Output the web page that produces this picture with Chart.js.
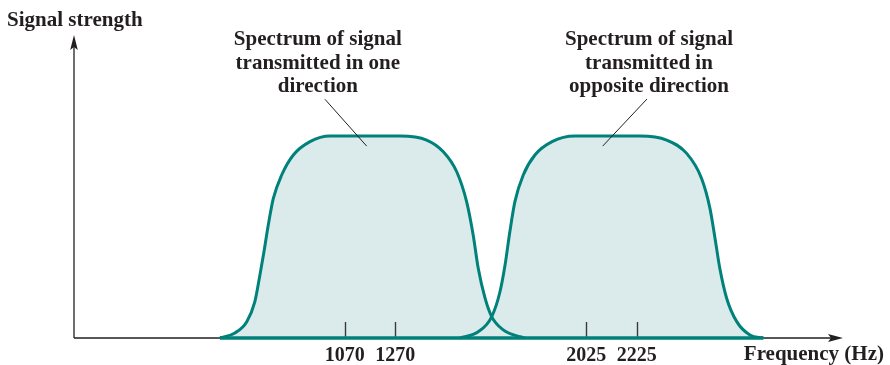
<!DOCTYPE html>
<html>
<head>
<meta charset="utf-8">
<script src="https://cdn.jsdelivr.net/npm/chart.js@4.4.1/dist/chart.umd.min.js"></script>
<style>
  html, body { margin: 0; padding: 0; background: #fff; }
  canvas { display: block; }
</style>
</head>
<body>
<canvas id="spectrumChart" width="890" height="365"></canvas>
<script>
// Full-duplex band spectrum

const freqTicks = [1070, 1270, 2025, 2225];

// lower band (one direction)
const band1Freq  = [577, 636, 683, 715, 735, 751, 768, 788, 821, 867, 933, 1012, 1091,
                    1289, 1394, 1460, 1513, 1552, 1578, 1598, 1625, 1651, 1697, 1763, 1783];
const band1Level = [0, 0.025, 0.081, 0.18, 0.312, 0.427, 0.559, 0.691, 0.807, 0.906, 0.972, 1.0, 1.0,
                    1.0, 0.98, 0.922, 0.823, 0.675, 0.51, 0.345, 0.197, 0.106, 0.04, 0.006, 0];

// upper band (opposite direction)
const band2Freq  = [1526, 1598, 1651, 1684, 1704, 1723, 1743, 1776, 1822, 1890, 1980, 2079,
                    2237, 2343, 2422, 2481, 2514, 2534, 2553, 2580, 2620, 2672, 2725];
const band2Level = [0, 0.031, 0.105, 0.229, 0.361, 0.526, 0.675, 0.807, 0.906, 0.972, 1.0, 1.0,
                    1.0, 0.98, 0.914, 0.79, 0.642, 0.494, 0.345, 0.197, 0.081, 0.015, 0];

const annotations = [
    { lines: ['Spectrum of signal', 'transmitted in one', 'direction'],
      textAt: [964, 1.45], from: [992, 1.182], to: [1157, 0.95] },
    { lines: ['Spectrum of signal', 'transmitted in', 'opposite direction'],
      textAt: [2273, 1.45], from: [2265, 1.183], to: [2090, 0.95] }
];

const TEAL = '#00817a';
const FILL = '#dbebeb';
const INK = '#231f20';
const FONT = 'bold 21px "Liberation Serif", "Times New Roman", serif';

function toPoints(xs, ys) {
    return xs.map((x, i) => ({ x: x, y: ys[i] }));
}

const axesPlugin = {
    id: 'axesPlugin',
    beforeDatasetsDraw(chart) {
        const ctx = chart.ctx;
        const area = chart.chartArea;
        const y0 = chart.scales.y.getPixelForValue(0);
        ctx.save();
        ctx.strokeStyle = INK;
        ctx.fillStyle = INK;
        ctx.lineWidth = 1.3;
        ctx.beginPath();
        ctx.moveTo(area.left, y0);
        ctx.lineTo(area.left, area.top + 12);
        ctx.moveTo(area.left, y0);
        ctx.lineTo(area.right - 12, y0);
        ctx.stroke();
        // arrow heads
        ctx.beginPath();
        ctx.moveTo(area.left, area.top);
        ctx.lineTo(area.left - 3.8, area.top + 15);
        ctx.lineTo(area.left, area.top + 12);
        ctx.lineTo(area.left + 3.8, area.top + 15);
        ctx.closePath();
        ctx.fill();
        ctx.beginPath();
        ctx.moveTo(area.right, y0);
        ctx.lineTo(area.right - 15, y0 - 4);
        ctx.lineTo(area.right - 12, y0);
        ctx.lineTo(area.right - 15, y0 + 4);
        ctx.closePath();
        ctx.fill();
        ctx.restore();
    },
    afterDatasetsDraw(chart) {
        const ctx = chart.ctx;
        const xs = chart.scales.x;
        const ys = chart.scales.y;
        const y0 = ys.getPixelForValue(0);
        ctx.save();
        ctx.strokeStyle = '#3a3a3a';
        ctx.lineWidth = 1.4;
        ctx.beginPath();
        freqTicks.forEach(f => {
            const px = Math.round(xs.getPixelForValue(f)) + 0.5;
            ctx.moveTo(px, y0 - 1.5);
            ctx.lineTo(px, y0 - 16);
        });
        ctx.stroke();

        // leader lines
        ctx.strokeStyle = INK;
        ctx.lineWidth = 1;
        annotations.forEach(a => {
            ctx.beginPath();
            ctx.moveTo(xs.getPixelForValue(a.from[0]), ys.getPixelForValue(a.from[1]));
            ctx.lineTo(xs.getPixelForValue(a.to[0]), ys.getPixelForValue(a.to[1]));
            ctx.stroke();
        });
        ctx.restore();
    },
    afterDraw(chart) {
        const ctx = chart.ctx;
        const xs = chart.scales.x;
        const ys = chart.scales.y;
        ctx.save();
        ctx.fillStyle = INK;
        ctx.font = FONT;
        ctx.textBaseline = 'alphabetic';

        ctx.textAlign = 'center';
        annotations.forEach(a => {
            const cx = xs.getPixelForValue(a.textAt[0]);
            const by = ys.getPixelForValue(a.textAt[1]);
            a.lines.forEach((line, i) => ctx.fillText(line, cx, by + i * 23.5));
        });

        ctx.textAlign = 'left';
        ctx.fillText('Signal strength', 7, 26);
        ctx.textAlign = 'right';
        ctx.fillText('Frequency (Hz)', 884, 360);
        ctx.restore();
    }
};

new Chart(document.getElementById('spectrumChart'), {
    type: 'line',
    data: {
        datasets: [
            {
                data: toPoints(band1Freq, band1Level),
                borderColor: TEAL,
                backgroundColor: FILL,
                borderWidth: 3,
                fill: 'origin',
                pointRadius: 0,
                cubicInterpolationMode: 'monotone',
                clip: false
            },
            {
                data: toPoints(band2Freq, band2Level),
                borderColor: TEAL,
                backgroundColor: FILL,
                borderWidth: 3,
                fill: 'origin',
                pointRadius: 0,
                cubicInterpolationMode: 'monotone',
                clip: false
            },
            {
                // teal base under both bands
                data: toPoints([band1Freq[0], band2Freq[band2Freq.length - 1]], [0, 0]),
                borderColor: TEAL,
                borderWidth: 3.5,
                fill: false,
                pointRadius: 0,
                clip: false
            }
        ]
    },
    options: {
        responsive: false,
        animation: false,
        layout: { padding: { left: 74, right: 47, top: 35, bottom: -9 } },
        plugins: {
            legend: { display: false },
            tooltip: { enabled: false },
            filler: { drawTime: 'beforeDatasetsDraw' }
        },
        scales: {
            x: {
                type: 'linear',
                min: 0,
                max: 3040,
                grid: { display: false, drawTicks: false },
                border: { display: false },
                afterBuildTicks: axis => {
                    axis.ticks = freqTicks.map(v => ({ value: v }));
                },
                ticks: {
                    autoSkip: false,
                    maxRotation: 0,
                    padding: 8,
                    color: INK,
                    font: { family: '"Liberation Serif", "Times New Roman", serif', size: 20, weight: 'bold', lineHeight: 1 },
                    callback: v => String(v)
                }
            },
            y: {
                display: false,
                min: 0,
                max: 1.5
            }
        }
    },
    plugins: [axesPlugin]
});
</script>
</body>
</html>
